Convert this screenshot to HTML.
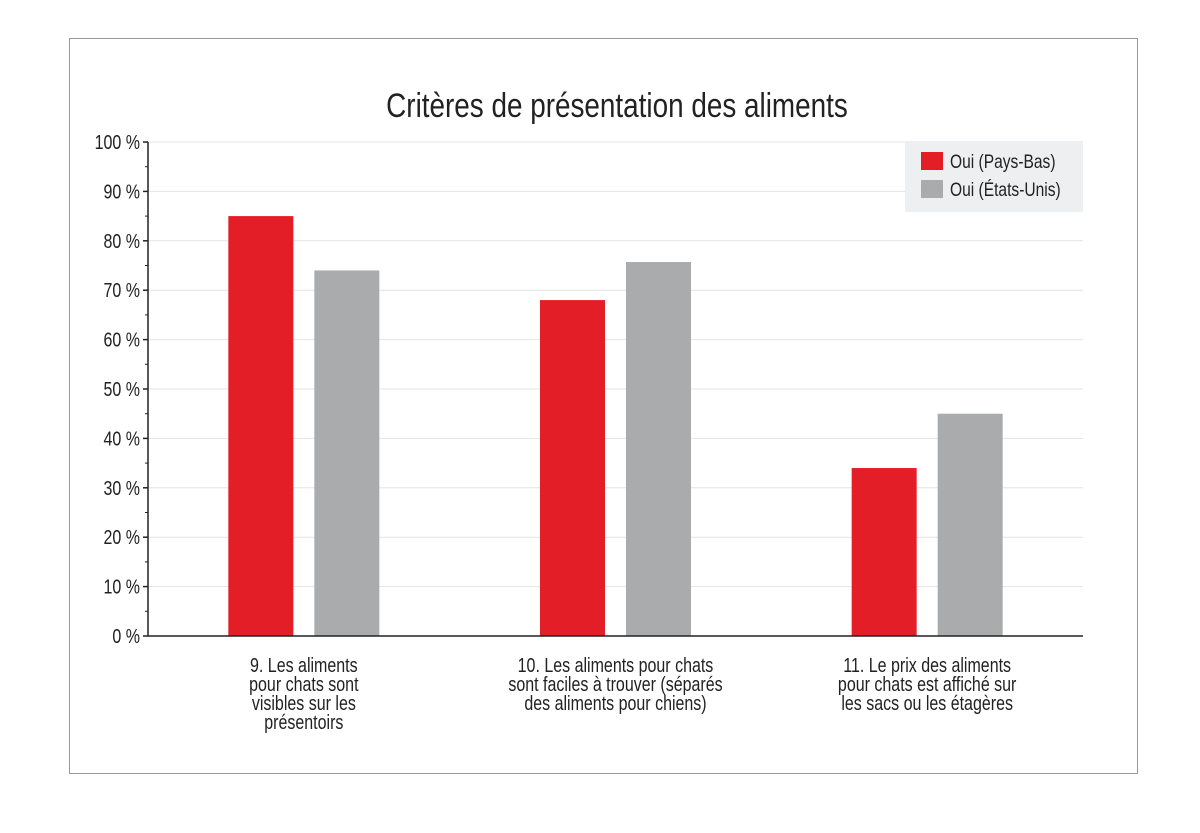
<!DOCTYPE html>
<html><head><meta charset="utf-8"><style>
body{margin:0;background:#fff;}
svg text{font-family:"Liberation Sans Narrow","Liberation Sans",sans-serif;}
</style></head><body>
<svg width="1200" height="828" xmlns="http://www.w3.org/2000/svg" id="chart">
<rect x="69.5" y="38.5" width="1068" height="735" fill="#fff" stroke="#999"/>
<text x="617" y="117" text-anchor="middle" font-size="34" fill="#222" transform="translate(617 0) scale(0.82 1) translate(-617 0)">Critères de présentation des aliments</text>
<g id="grid"></g><g id="bars"></g><g id="axes"></g><g id="labels"></g>
<g>
<rect x="905" y="141" width="178" height="71" fill="#eeeff1"/>
<rect x="921" y="152" width="22" height="18" fill="#e31e26"/>
<text x="950" y="168" font-size="19" fill="#222" transform="translate(950 0) scale(0.82 1) translate(-950 0)">Oui (Pays-Bas)</text>
<rect x="921" y="180" width="22" height="18" fill="#aaabad"/>
<text x="950" y="196" font-size="19" fill="#222" transform="translate(950 0) scale(0.82 1) translate(-950 0)">Oui (États-Unis)</text>
</g>
</svg>
<script>
const categories=[["9. Les aliments","pour chats sont","visibles sur les","présentoirs"],["10. Les aliments pour chats","sont faciles à trouver (séparés","des aliments pour chiens)"],["11. Le prix des aliments","pour chats est affiché sur","les sacs ou les étagères"]];
const nlValues=[85,68,34];
const usValues=[74,75.7,45];
const tickValues=[0,10,20,30,40,50,60,70,80,90,100];
const tickLabels=["0 %","10 %","20 %","30 %","40 %","50 %","60 %","70 %","80 %","90 %","100 %"];
const NS="http://www.w3.org/2000/svg";
const x0=148,x1=1083,y0=636,y1=142;
const y=v=>y0-(v/100)*(y0-y1);
const groupW=(x1-x0)/categories.length;
const gc=i=>x0+groupW*(i+0.5);
function mk(p,t,a){const e=document.createElementNS(NS,t);for(const k in a)e.setAttribute(k,a[k]);document.getElementById(p).appendChild(e);return e;}
tickValues.forEach((v,i)=>{
 if(v>0){const g=mk("grid","line",{x1:x0,x2:x1,y1:y(v),y2:y(v),stroke:"#e4e4e4","stroke-width":1});
 
 }
 const t=mk("axes","line",{x1:x0-5,x2:x0,y1:y(v),y2:y(v),stroke:"#222","stroke-width":1.5});
 
 
 if(v<100){const m=mk("axes","line",{x1:x0-3,x2:x0,y1:y(v+5),y2:y(v+5),stroke:"#222","stroke-width":1});
 
 }
 const l=mk("labels","text",{x:x0-8,y:y(v)+7,"text-anchor":"end","font-size":20,fill:"#222",transform:`translate(${x0-8} 0) scale(0.8 1) translate(${-(x0-8)} 0)`});
 l.textContent=tickLabels[i];
 
 
});
const bw=65,gap=21;
categories.forEach((c,i)=>{
 const cx=gc(i);
 const r=mk("bars","rect",{x:cx-gap/2-bw,y:y(nlValues[i]),width:bw,height:y0-y(nlValues[i]),fill:"#e31e26"});
 
 
 const g=mk("bars","rect",{x:cx+gap/2,y:y(usValues[i]),width:bw,height:y0-y(usValues[i]),fill:"#aaabad"});
 
 
 const t=mk("labels","text",{x:cx,y:672,"text-anchor":"middle","font-size":20,fill:"#222",transform:`translate(${cx} 0) scale(0.8 1) translate(${-cx} 0)`});
 
 
 c.forEach((line,j)=>{const s=document.createElementNS(NS,"tspan");s.setAttribute("x",cx);s.setAttribute("dy",j?19:0);s.textContent=line;t.appendChild(s);});
});
const ya=mk("axes","line",{x1:x0,x2:x0,y1:y1,y2:y0,stroke:"#222","stroke-width":1.5});


const xa=mk("axes","line",{x1:x0,x2:x1,y1:y0,y2:y0,stroke:"#222","stroke-width":1.5});


</script>
</body></html>
